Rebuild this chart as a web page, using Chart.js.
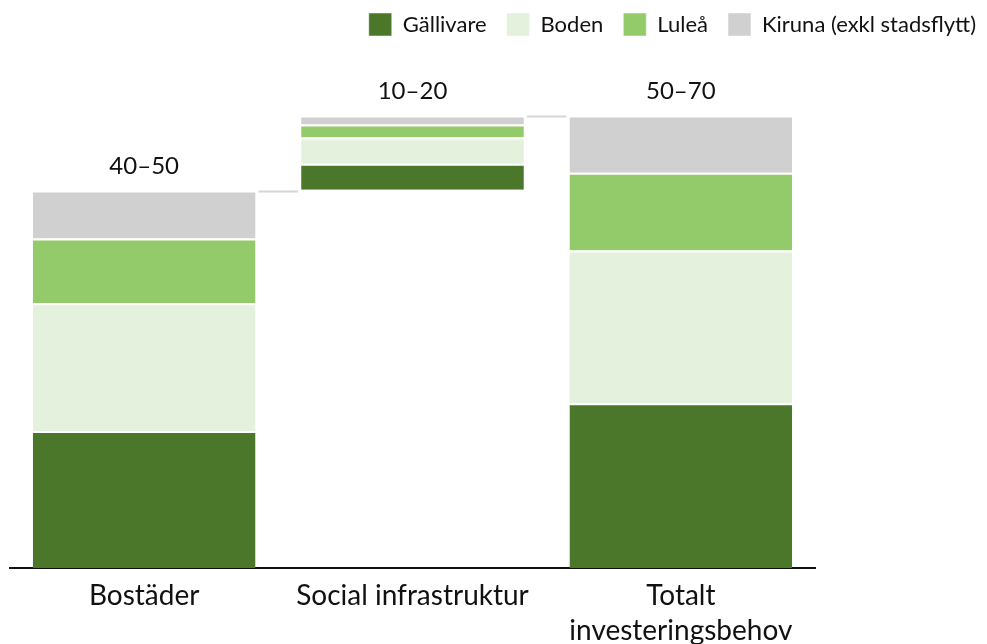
<!DOCTYPE html>
<html>
<head>
<meta charset="utf-8">
<script src="https://cdn.jsdelivr.net/npm/chart.js@4.4.0/dist/chart.umd.min.js"></script>
<style>
  body { margin: 0; background: #fff; }
  #wrap { width: 987px; height: 644px; }
</style>
</head>
<body>
<div id="wrap"><canvas id="mycanvas"></canvas></div>
<script>
// data (mdr kr, approx)
var categories = ['Bostäder', 'Social infrastruktur', ['Totalt', 'investeringsbehov']];
var base = [0, 50.3, 0];            // invisible offset for the floating middle bar
var gallivare = [18.2, 3.45, 21.9];
var boden = [17.0, 3.5, 20.3];
var lulea = [8.6, 1.7, 10.35];
var kiruna = [6.4, 1.2, 7.6];
var rangeLabels = ['40–50', '10–20', '50–70'];

var FONT = 'Lato';

function seg(label, data, color) {
	return {
		label: label,
		data: data,
		backgroundColor: color,
		borderColor: '#fff',
		borderWidth: { top: 2, bottom: 0, left: 0, right: 0 },
		borderSkipped: false,
		stack: 's'
	};
}

var chartdata = {
	labels: categories,
	datasets: [
		{ label: '_base', data: base, backgroundColor: 'rgba(0,0,0,0)', stack: 's' },
		seg('Gällivare', gallivare, '#4a7729'),
		seg('Boden', boden, '#e4f1dc'),
		seg('Luleå', lulea, '#93cb6b'),
		seg('Kiruna (exkl stadsflytt)', kiruna, '#d0d0d0')
	]
};

// range labels above bars + connector lines between bars
var extras = {
	id: 'extras',
	afterDatasetsDraw: function(chart) {
		var ctx = chart.ctx;
		var y = chart.scales.y;
		var meta = chart.getDatasetMeta(4);
		var tops = [];
		for (var i = 0; i < categories.length; i++) {
			tops.push(base[i] + gallivare[i] + boden[i] + lulea[i] + kiruna[i]);
		}
		ctx.save();
		ctx.strokeStyle = '#d6d6d6';
		ctx.lineWidth = 2;
		for (var j = 0; j < meta.data.length - 1; j++) {
			var a = meta.data[j], b = meta.data[j + 1];
			var ly = y.getPixelForValue(j === 0 ? tops[0] : tops[1]) + 1;
			ctx.beginPath();
			ctx.moveTo(a.x + a.width / 2 + 3, ly);
			ctx.lineTo(b.x - b.width / 2 - 3, ly);
			ctx.stroke();
		}
		ctx.fillStyle = '#111';
		ctx.font = '24px ' + FONT;
		ctx.textAlign = 'center';
		ctx.textBaseline = 'middle';
		for (var k = 0; k < meta.data.length; k++) {
			ctx.fillText(rangeLabels[k], meta.data[k].x, y.getPixelForValue(tops[k]) - 24);
		}
		ctx.restore();
	}
};

var ctx = document.getElementById('mycanvas');
var barGraph = new Chart(ctx, {
	type: 'bar',
	data: chartdata,
	plugins: [extras],
	options: {
		responsive: true,
		maintainAspectRatio: false,
		animation: false,
		layout: { padding: { left: 10, right: -9, top: -7, bottom: -6 } },
		datasets: { bar: { categoryPercentage: 1, barPercentage: 0.83 } },
		plugins: {
			tooltip: { enabled: false },
			legend: {
				position: 'top',
				align: 'end',
				labels: {
					boxWidth: 23,
					boxHeight: 23,
					padding: 20,
					color: '#111',
					font: { family: FONT, size: 22 },
					filter: function(item) { return item.text.charAt(0) !== '_'; }
				}
			}
		},
		scales: {
			x: {
				stacked: true,
				grid: { display: false },
				border: { color: '#111', width: 2 },
				ticks: { color: '#111', padding: 2, font: { family: FONT, size: 28, lineHeight: 1.25 } }
			},
			y: {
				stacked: true,
				position: 'right',
				min: 0,
				max: 69.4,
				grid: { display: false },
				border: { display: false },
				ticks: { display: false },
				afterFit: function(s) { s.width = 181; }
			}
		}
	}
});
</script>
</body>
</html>
